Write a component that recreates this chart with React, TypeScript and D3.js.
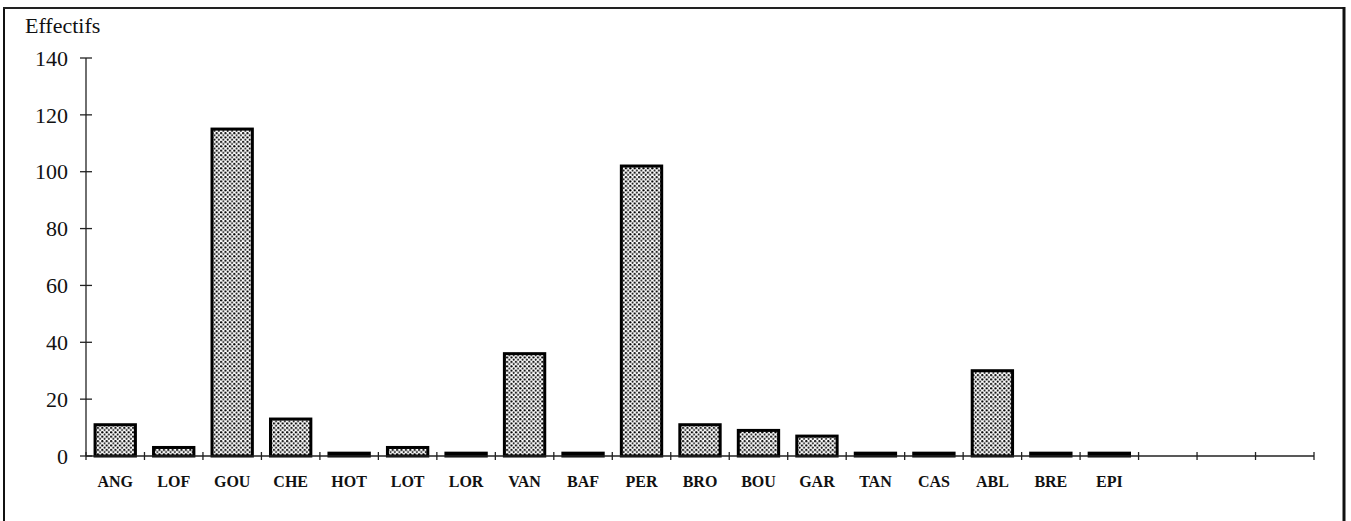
import React from "react";
import * as d3 from "d3";

const categories = [
  "ANG", "LOF", "GOU", "CHE", "HOT", "LOT", "LOR", "VAN", "BAF",
  "PER", "BRO", "BOU", "GAR", "TAN", "CAS", "ABL", "BRE", "EPI",
];
const effectifs = [11, 3, 115, 13, 1, 3, 1, 36, 1, 102, 11, 9, 7, 1, 1, 30, 1, 1];
const emptySlots = ["_1", "_2", "_3"];
const yTicks = [0, 20, 40, 60, 80, 100, 120, 140];

const W = 1351;
const H = 521;
const left = 86;
const right = 1314;
const top = 58;
const bottom = 456;

export default function App() {
  const x = d3
    .scaleBand<string>()
    .domain([...categories, ...emptySlots])
    .range([left, right])
    .paddingInner(0.31)
    .paddingOuter(0.155);
  const step = x.step();
  const y = d3.scaleLinear().domain([0, 140]).range([bottom, top]);

  const slotEdges = d3.range(categories.length + emptySlots.length + 1).map((i) => left + i * step);
  const font = "'Liberation Serif', 'Times New Roman', serif";

  return (
    <svg
      width={W}
      height={H}
      style={{ position: "absolute", left: 0, top: 0, background: "#fff" }}
    >
      <defs>
        <pattern id="dots" width={4.4} height={4.4} patternUnits="userSpaceOnUse">
          <rect width={4.4} height={4.4} fill="#fff" />
          <circle cx={1.1} cy={1.1} r={1.1} fill="#000" />
          <circle cx={3.3} cy={3.3} r={1.0} fill="#111" />
        </pattern>
      </defs>

      {/* frame */}
      <line x1={4} x2={4} y1={7} y2={H} stroke="#111" strokeWidth={2} />
      <line x1={3} x2={1345} y1={8} y2={8} stroke="#222" strokeWidth={2} />
      <line x1={1344} x2={1344} y1={7} y2={H} stroke="#111" strokeWidth={3} />

      <text x={25} y={33} fontFamily={font} fontSize={22} fill="#111">
        Effectifs
      </text>

      {/* bars */}
      {categories.map((c, i) => (
        <rect
          key={c}
          x={x(c)!}
          y={y(effectifs[i])}
          width={x.bandwidth()}
          height={bottom - y(effectifs[i])}
          fill="url(#dots)"
          stroke="#000"
          strokeWidth={3}
        />
      ))}

      {/* y axis */}
      <line x1={left} x2={left} y1={top} y2={bottom} stroke="#222" strokeWidth={1.3} />
      {yTicks.map((t) => (
        <g key={t}>
          <line x1={left - 6} x2={left + 6} y1={y(t)} y2={y(t)} stroke="#222" strokeWidth={1.3} />
          <text
            x={68}
            y={y(t)}
            dy="0.35em"
            textAnchor="end"
            fontFamily={font}
            fontSize={22}
            fill="#111"
          >
            {t}
          </text>
        </g>
      ))}

      {/* x axis */}
      <line x1={left} x2={right} y1={bottom} y2={bottom} stroke="#222" strokeWidth={1.3} />
      {slotEdges.map((e, i) => (
        <line key={i} x1={e} x2={e} y1={bottom - 4} y2={bottom + 4} stroke="#222" strokeWidth={1.3} />
      ))}
      {categories.map((c) => (
        <text
          key={c}
          x={x(c)! + x.bandwidth() / 2}
          y={487}
          textAnchor="middle"
          fontFamily={font}
          fontSize={16}
          fontWeight="bold"
          fill="#111"
        >
          {c}
        </text>
      ))}
    </svg>
  );
}
